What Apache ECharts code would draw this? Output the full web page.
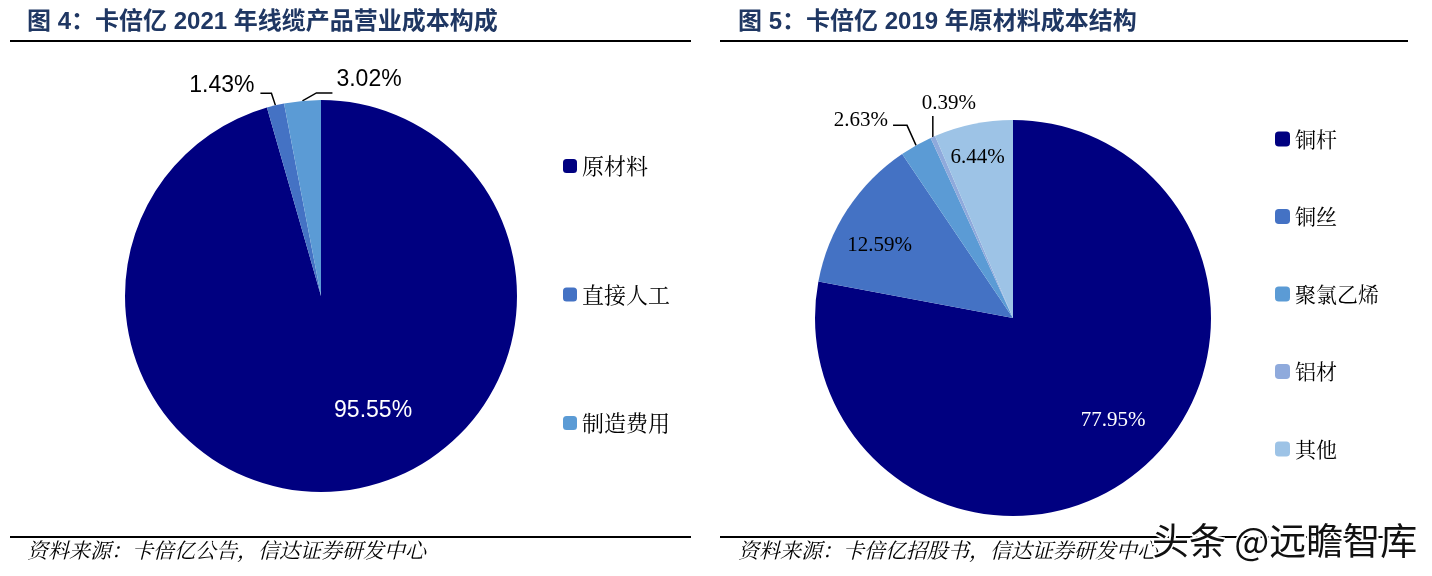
<!DOCTYPE html>
<html>
<head>
<meta charset="utf-8">
<script src="https://cdn.jsdelivr.net/npm/echarts@6/dist/echarts.min.js"></script>
<style>
html, body { margin: 0; padding: 0; background: #fff; }
#main { width: 1432px; height: 576px; }
</style>
</head>
<body>
<div id="main"></div>
<script>
// 图4 数据
var costNames = ['原材料', '直接人工', '制造费用'];
var costValues = [95.55, 1.43, 3.02];
// 图5 数据
var materialNames = ['铜杆', '铜丝', '聚氯乙烯', '铝材', '其他'];
var materialValues = [77.95, 12.59, 2.63, 0.39, 6.44];

var colors = ['#000080', '#4472C4', '#5B9BD5', '#8FAADC', '#9DC3E6'];

var leftPie = { cx: 321, cy: 296, r: 196 };
var rightPie = { cx: 1013, cy: 318, r: 198 };

// 扇区外沿中点
function edgePoint(values, idx, pie) {
    var total = 0, before = 0;
    for (var i = 0; i < values.length; i++) {
        total += values[i];
        if (i < idx) before += values[i];
    }
    var t = (before + values[idx] / 2) / total * Math.PI * 2;
    return [pie.cx + pie.r * Math.sin(t), pie.cy - pie.r * Math.cos(t)];
}

function buildData(names, values, cfg) {
    return names.map(function (n, i) {
        var c = cfg[i] || {};
        var item = { name: n, value: values[i], itemStyle: { color: colors[i] } };
        if (c.outside) {
            item.label = { position: 'outside', color: '#000' };
            item.labelLine = { show: true };
        } else {
            item.label = { position: 'inside', color: c.color || '#000', offset: c.offset || [0, 0] };
            item.labelLine = { show: false };
        }
        return item;
    });
}

var leftData = buildData(costNames, costValues, {
    0: { color: '#fff', offset: [38, 15] },
    1: { outside: true },
    2: { outside: true }
});
var rightData = buildData(materialNames, materialValues, {
    0: { color: '#fff', offset: [35, 24] },
    1: { color: '#000', offset: [-48, -17] },
    2: { outside: true },
    3: { outside: true },
    4: { color: '#000', offset: [-15, -61] }
});

function pctFmt(p) { return p.value.toFixed(2) + '%'; }

var legendFont = '"Noto Serif CJK SC","Noto Sans CJK SC",serif';

var chart = echarts.init(document.getElementById('main'));

chart.setOption({
    backgroundColor: '#fff',
    animation: false,
    legend: [{
        orient: 'vertical',
        left: 558,
        top: 150,
        itemGap: 106.5,
        itemWidth: 14,
        itemHeight: 14,
        icon: 'roundRect',
        data: costNames,
        textStyle: { fontSize: 22, lineHeight: 22, color: '#000', fontFamily: legendFont }
    }, {
        orient: 'vertical',
        left: 1270,
        top: 123,
        itemGap: 55.5,
        itemWidth: 15,
        itemHeight: 15,
        icon: 'roundRect',
        data: materialNames,
        textStyle: { fontSize: 21, lineHeight: 22, color: '#000', fontFamily: legendFont }
    }],
    series: [{
        type: 'pie',
        center: [leftPie.cx, leftPie.cy],
        radius: leftPie.r,
        startAngle: 90,
        clockwise: true,
        data: leftData,
        label: {
            formatter: pctFmt,
            fontSize: 23,
            fontFamily: '"Liberation Sans",Arial,sans-serif'
        },
        labelLine: { lineStyle: { color: '#000', width: 1.5 } },
        labelLayout: function (p) {
            var s;
            if (p.dataIndex === 1) {
                s = edgePoint(costValues, 1, leftPie);
                return {
                    x: s[0] - 21, y: s[1] - 20, align: 'right', verticalAlign: 'middle',
                    labelLinePoints: [s, [s[0] - 4, s[1] - 12], [s[0] - 15, s[1] - 12]]
                };
            }
            if (p.dataIndex === 2) {
                s = edgePoint(costValues, 2, leftPie);
                return {
                    x: s[0] + 34, y: s[1] - 21, align: 'left', verticalAlign: 'middle',
                    labelLinePoints: [s, [s[0] + 14, s[1] - 8], [s[0] + 30, s[1] - 8]]
                };
            }
        }
    }, {
        type: 'pie',
        center: [rightPie.cx, rightPie.cy],
        radius: rightPie.r,
        startAngle: 90,
        clockwise: true,
        data: rightData,
        label: {
            formatter: pctFmt,
            fontSize: 21,
            fontFamily: '"Liberation Serif","Times New Roman",serif'
        },
        labelLine: { lineStyle: { color: '#000', width: 1.5 } },
        labelLayout: function (p) {
            var s;
            if (p.dataIndex === 2) {
                s = edgePoint(materialValues, 2, rightPie);
                return {
                    x: s[0] - 28, y: s[1] - 25, align: 'right', verticalAlign: 'middle',
                    labelLinePoints: [s, [s[0] - 9, s[1] - 20], [s[0] - 23, s[1] - 20]]
                };
            }
            if (p.dataIndex === 3) {
                s = edgePoint(materialValues, 3, rightPie);
                return {
                    x: s[0] + 16, y: s[1] - 33, align: 'center', verticalAlign: 'middle',
                    labelLinePoints: [s, [s[0], s[1] - 21]]
                };
            }
        }
    }],
    graphic: [
        { type: 'text', left: 27, top: 10, style: { text: '图 4：卡倍亿 2021 年线缆产品营业成本构成', fill: '#1F3763', font: 'bold 24px "Liberation Sans","Noto Sans CJK SC",sans-serif' } },
        { type: 'text', left: 738, top: 10, style: { text: '图 5：卡倍亿 2019 年原材料成本结构', fill: '#1F3763', font: 'bold 24px "Liberation Sans","Noto Sans CJK SC",sans-serif' } },
        { type: 'line', shape: { x1: 10, y1: 41, x2: 691, y2: 41 }, style: { stroke: '#000', lineWidth: 2 } },
        { type: 'line', shape: { x1: 720, y1: 41, x2: 1408, y2: 41 }, style: { stroke: '#000', lineWidth: 2 } },
        { type: 'line', shape: { x1: 10, y1: 537, x2: 691, y2: 537 }, style: { stroke: '#000', lineWidth: 2 } },
        { type: 'line', shape: { x1: 720, y1: 537, x2: 1400, y2: 537 }, style: { stroke: '#000', lineWidth: 2 } },
        { type: 'text', left: 27, top: 540, style: { text: '资料来源：卡倍亿公告，信达证券研发中心', fill: '#000', font: 'italic 21px "Noto Serif CJK SC","Noto Sans CJK SC",serif' } },
        { type: 'text', left: 738, top: 540, style: { text: '资料来源：卡倍亿招股书，信达证券研发中心', fill: '#000', font: 'italic 21px "Noto Serif CJK SC","Noto Sans CJK SC",serif' } },
        { type: 'text', left: 1150, top: 520, z: 100, style: { text: '头条 @远瞻智库', fill: '#111', stroke: '#fff', lineWidth: 4, font: '37px "Noto Sans CJK SC",sans-serif' } }
    ]
});
</script>
</body>
</html>
